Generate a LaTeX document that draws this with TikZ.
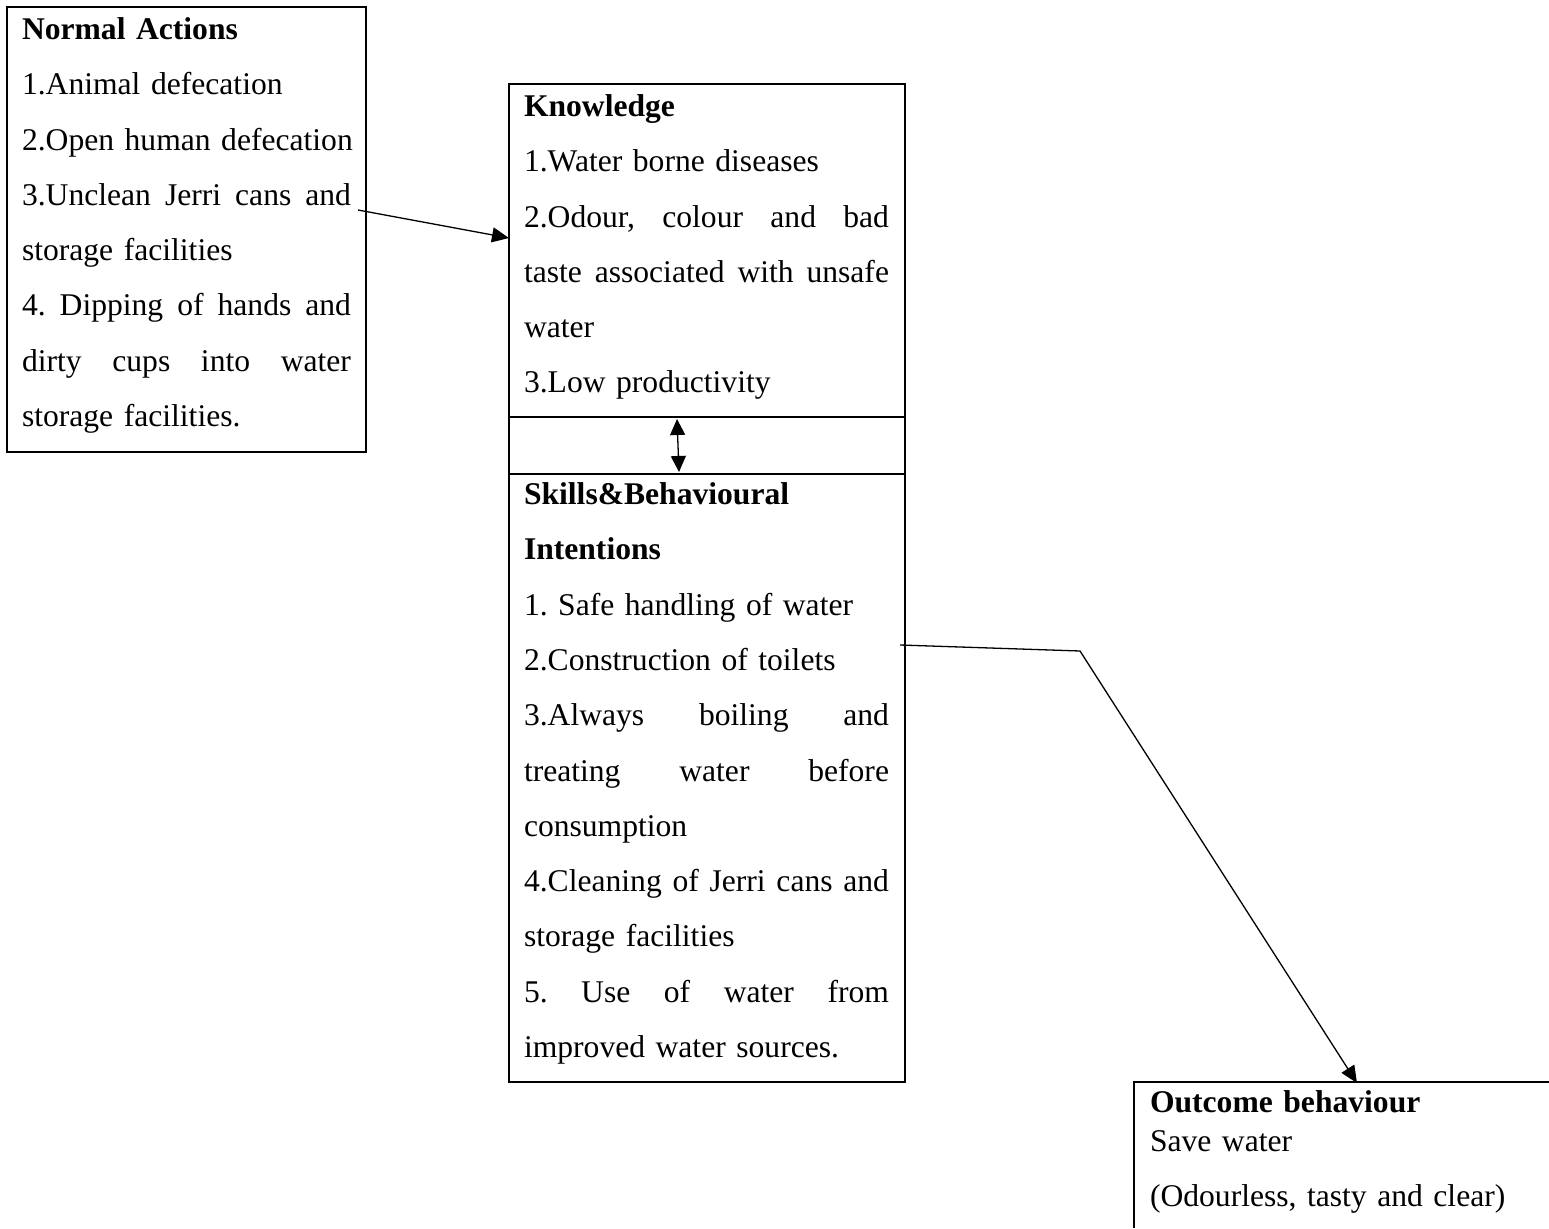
\documentclass[tikz,border=0pt]{standalone}
\usepackage{fontspec}
\setmainfont{Liberation Serif}
\usetikzlibrary{arrows.meta}
\frenchspacing
\newcommand\jl[2]{\leavevmode\hbox to #1{#2}}
\newcommand\wsp{\hfill}
\tikzset{
  boxframe/.style={draw=black, line width=2pt, inner sep=0pt, outer sep=0pt, anchor=north west},
  boxtext/.style={anchor=north west, inner sep=0pt, outer sep=0pt, align=left,
    font=\fontsize{31.6}{55.3}\selectfont},
  conn/.style={draw=black, line width=1.3pt},
  tip/.style={-{Triangle[length=17pt,width=15pt]}},
  dtip/.style={{Triangle[length=16pt,width=15pt]}-{Triangle[length=16pt,width=15pt]}}
}
\begin{document}
\begin{tikzpicture}[x=1pt,y=-1pt]
\fill[white] (0,0) rectangle (1549,1228);
\useasboundingbox (0,0) rectangle (1549,1228);

% boxes
\node[boxframe, minimum width=359pt, minimum height=445pt] (na) at (7,7) {};
\node[boxframe, minimum width=396pt, minimum height=333pt] (kn) at (509,84) {};
\node[boxframe, minimum width=396pt, minimum height=57pt] (gap) at (509,417) {};
\node[boxframe, minimum width=396pt, minimum height=608pt] (sk) at (509,474) {};
\coordinate (oTR) at (1549,1082);
\coordinate (oTL) at (1134,1082);
\coordinate (oBL) at (1134,1228);
\draw[line width=2pt] (oTR) -- (oTL) -- (oBL);

% texts
\node[boxtext, text width=340pt] (natext) at (22,14.5) {\rule{0pt}{25pt}\textbf{Normal Actions}\\
1.Animal defecation\\
\mbox{2.Open human defecation}\\
\jl{329pt}{3.Unclean\wsp Jerri\wsp cans\wsp and}\\
storage facilities\\
\jl{329pt}{4.\wsp Dipping\wsp of\wsp hands\wsp and}\\
\jl{329pt}{dirty\wsp cups\wsp into\wsp water}\\
storage facilities.};

\node[boxtext, text width=370pt] (kntext) at (524,91.5) {\rule{0pt}{25pt}\textbf{Knowledge}\\
1.Water borne diseases\\
\jl{365pt}{2.Odour,\wsp colour\wsp and\wsp bad}\\
\jl{365pt}{taste\wsp associated\wsp with\wsp unsafe}\\
water\\
3.Low productivity};

\node[boxtext, text width=370pt] (sktext) at (524,479.5) {\rule{0pt}{25pt}\textbf{Skills\&Behavioural}\\
\textbf{Intentions}\\
1. Safe handling of water\\
2.Construction of toilets\\
\jl{365pt}{3.Always\wsp boiling\wsp and}\\
\jl{365pt}{treating\wsp water\wsp before}\\
consumption\\
\jl{365pt}{4.Cleaning\wsp of\wsp Jerri\wsp cans\wsp and}\\
storage facilities\\
\jl{365pt}{5.\wsp Use\wsp of\wsp water\wsp from}\\
improved water sources.};

\node[boxtext, text width=390pt] (outtext) at (1150,1087) {\rule{0pt}{25pt}\textbf{Outcome behaviour}\\[-16.3pt]
Save water\\
(Odourless, tasty and clear)};

% connectors
\coordinate (a1s) at (358,210);
\coordinate (a1e) at (509,238);
\draw[conn, tip] (a1s) -- (a1e);

\coordinate (d1) at (677,419);
\coordinate (d2) at (679,472);
\draw[conn, dtip] (d1) -- (d2);

\coordinate (c1) at (900,645);
\coordinate (c2) at (1080,651);
\coordinate (c3) at (1357,1083);
\draw[conn, tip] (c1) -- (c2) -- (c3);
\end{tikzpicture}
\end{document}
